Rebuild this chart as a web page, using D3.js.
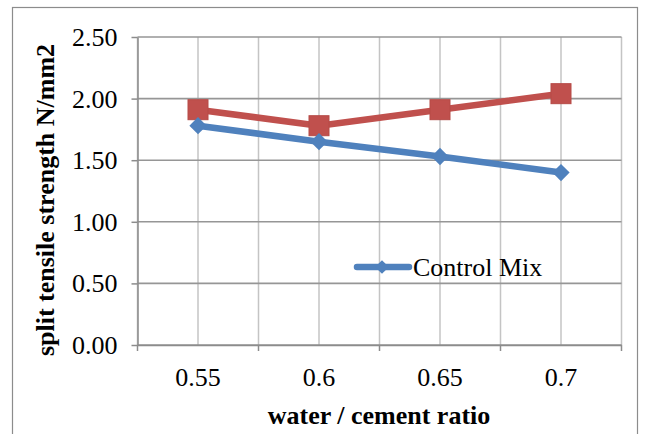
<!DOCTYPE html>
<html>
<head>
<meta charset="utf-8">
<script src="https://cdn.jsdelivr.net/npm/d3@7"></script>
<style>
  body { margin: 0; background: #fff; }
  svg text { font-family: "Liberation Serif", "Times New Roman", Times, "DejaVu Serif", serif; }
</style>
</head>
<body>
<svg id="chart"></svg>
<script>
// chart values
const ratios = ["0.55", "0.6", "0.65", "0.7"];
const controlMix = [1.78, 1.65, 1.53, 1.40];
const secondMix = [1.91, 1.78, 1.91, 2.04];
const yTicks = [0, 0.5, 1.0, 1.5, 2.0, 2.5];

const width = 646, height = 434;
const plotLeft = 137.5, plotRight = 621.5, plotTop = 37, plotBottom = 345;

let svg = d3.select("#chart")
    .attr("width", width)
    .attr("height", height);

// outer frame
svg.append("rect")
    .attr("x", 12.5).attr("y", 7.5)
    .attr("width", 625).attr("height", 440)
    .attr("fill", "white")
    .attr("stroke", "#8c8c8c")
    .attr("stroke-width", 1.2);

let x = d3.scaleBand()
    .domain(ratios)
    .range([plotLeft, plotRight]);

let y = d3.scaleLinear()
    .domain([0, 2.5])
    .range([plotBottom, plotTop]);

// vertical grid: band edges and centres
let vLines = [];
ratios.forEach(r => {
    vLines.push(x(r));
    vLines.push(x(r) + x.bandwidth() / 2);
});
vLines.push(plotRight);

svg.append("g")
    .selectAll("line")
    .data(vLines)
    .join("line")
    .attr("x1", d => d).attr("x2", d => d)
    .attr("y1", plotTop).attr("y2", plotBottom)
    .attr("stroke", "#c4c4c4")
    .attr("stroke-width", 1.5);

// horizontal grid
svg.append("g")
    .selectAll("line")
    .data(yTicks)
    .join("line")
    .attr("x1", plotLeft).attr("x2", plotRight)
    .attr("y1", d => y(d))
    .attr("y2", d => y(d))
    .attr("stroke", "#969696")
    .attr("stroke-width", 1.6);

// y axis
let yAxis = svg.append("g")
    .attr("transform", `translate(${plotLeft},0)`)
    .call(d3.axisLeft(y).tickValues(yTicks).tickFormat(d3.format(".2f")).tickSize(6).tickSizeOuter(0))
    .attr("font-family", null);
yAxis.select(".domain").attr("stroke", "#8c8c8c").attr("stroke-width", 1.5);
yAxis.selectAll(".tick line").attr("stroke", "#8c8c8c").attr("stroke-width", 1.5);
yAxis.selectAll(".tick text")
    .attr("font-size", 26)
    .attr("fill", "#000")
    .attr("x", -20)
    .attr("dy", "0.33em");

// x axis
let xAxis = svg.append("g")
    .attr("transform", `translate(0,${plotBottom})`)
    .call(d3.axisBottom(x).tickSize(0).tickSizeOuter(0))
    .attr("font-family", null);
xAxis.select(".domain").attr("stroke", "#8c8c8c").attr("stroke-width", 1.5);
xAxis.selectAll(".tick text")
    .attr("font-size", 26)
    .attr("fill", "#000")
    .attr("dy", null)
    .attr("y", 41);

// boundary tick marks on x axis
svg.append("g")
    .selectAll("line")
    .data(ratios.map(r => x(r)).concat([plotRight]))
    .join("line")
    .attr("x1", d => d).attr("x2", d => d)
    .attr("y1", plotBottom).attr("y2", plotBottom + 6)
    .attr("stroke", "#8c8c8c")
    .attr("stroke-width", 1.5);

// axis titles
svg.append("text")
    .attr("transform", `translate(54,${(plotTop + plotBottom) / 2 + 9}) rotate(-90)`)
    .attr("text-anchor", "middle")
    .attr("font-size", 26)
    .attr("font-weight", "bold")
    .text("split tensile strength N/mm2");

svg.append("text")
    .attr("x", 379)
    .attr("y", 424)
    .attr("text-anchor", "middle")
    .attr("font-size", 26)
    .attr("font-weight", "bold")
    .text("water / cement ratio");

let cx = d => x(d) + x.bandwidth() / 2;
let line = d3.line()
    .x((d, i) => cx(ratios[i]))
    .y(d => y(d));

// red series
svg.append("path")
    .datum(secondMix)
    .attr("fill", "none")
    .attr("stroke", "#C0504D")
    .attr("stroke-width", 6.5)
    .attr("stroke-linejoin", "round")
    .attr("d", line);

svg.append("g")
    .selectAll("rect")
    .data(secondMix)
    .join("rect")
    .attr("x", (d, i) => cx(ratios[i]) - 10)
    .attr("y", d => y(d) - 10)
    .attr("width", 20).attr("height", 20)
    .attr("fill", "#C0504D")
    .attr("stroke", "#b64a47")
    .attr("stroke-width", 1);

// blue series
svg.append("path")
    .datum(controlMix)
    .attr("fill", "none")
    .attr("stroke", "#4F81BD")
    .attr("stroke-width", 6.5)
    .attr("stroke-linejoin", "round")
    .attr("d", line);

let diamond = d3.symbol().type(d3.symbolDiamond2).size(190);
svg.append("g")
    .selectAll("path")
    .data(controlMix)
    .join("path")
    .attr("transform", (d, i) => `translate(${cx(ratios[i])},${y(d)})`)
    .attr("d", diamond)
    .attr("fill", "#4F81BD");

// legend
let legend = svg.append("g").attr("transform", "translate(357,267)");
legend.append("line")
    .attr("x1", 0).attr("x2", 52)
    .attr("stroke", "#4F81BD")
    .attr("stroke-width", 6.5)
    .attr("stroke-linecap", "round");
legend.append("path")
    .attr("transform", "translate(25,0)")
    .attr("d", d3.symbol().type(d3.symbolDiamond2).size(120))
    .attr("fill", "#4F81BD");
legend.append("text")
    .attr("x", 56)
    .attr("dy", "0.35em")
    .attr("font-size", 26)
    .text("Control Mix");
</script>
</body>
</html>
